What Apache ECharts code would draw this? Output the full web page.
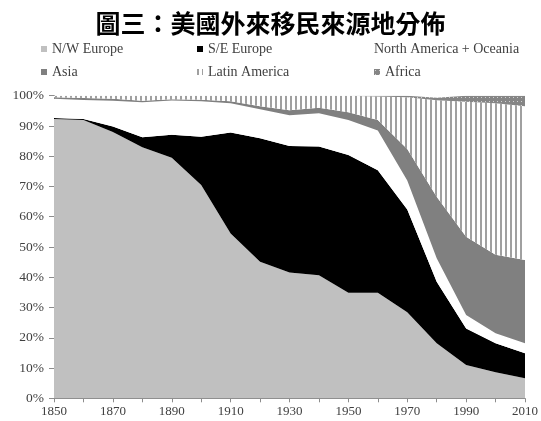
<!DOCTYPE html>
<html><head><meta charset="utf-8">
<script src="https://cdn.jsdelivr.net/npm/echarts@6/dist/echarts.min.js"></script>
<style>html,body{margin:0;padding:0;background:#fff}#c{width:541px;height:421px}</style>
</head><body><div id="c"></div>
<script>
const years = ['1850','1860','1870','1880','1890','1900','1910','1920','1930','1940','1950','1960','1970','1980','1990','2000','2010'];
const nwEurope = [92.3,92.0,88.0,83.0,79.5,70.5,54.5,45.1,41.6,40.7,34.9,34.9,28.4,18.2,11.0,8.6,6.6];
const seEurope = [0.3,0.3,1.8,3.3,7.6,15.9,33.3,40.8,41.8,42.5,45.5,40.5,34.0,20.3,12.1,9.6,8.3];
const naOceania = [6.4,6.3,8.5,11.5,11.3,11.8,9.7,9.6,10.1,11.0,11.6,13.1,9.6,7.8,4.4,3.3,3.3];
const asia = [0.5,0.6,0.7,0.5,0.4,0.5,0.7,1.0,1.7,1.8,2.5,3.5,10.4,20.3,25.9,25.9,27.5];
const latinAmerica = [0.5,0.8,1.0,1.7,1.2,1.3,1.8,3.5,4.8,4.0,5.5,7.7,17.1,31.9,44.6,50.1,50.8];
const africa = [0,0,0,0,0,0,0,0,0,0,0,0.3,0.5,0.8,2.0,2.5,3.5];
const yTicks = ['0%','10%','20%','30%','40%','50%','60%','70%','80%','90%','100%'];
const names = ['N/W Europe','S/E Europe','North America + Oceania','Asia','Latin America','Africa'];

function stripePattern(){
  const c=document.createElement('canvas');c.width=5;c.height=10;
  const g=c.getContext('2d');g.fillStyle='#ffffff';g.fillRect(0,0,5,10);
  g.fillStyle='#a0a0a0';g.fillRect(0,0,2,10);return c;
}
function dotPattern(){
  const c=document.createElement('canvas');c.width=4;c.height=4;
  const g=c.getContext('2d');g.fillStyle='#858585';g.fillRect(0,0,4,4);
  g.fillStyle='#d0d0d0';g.fillRect(1,1,1,1);return c;
}
const colors = ['#c0c0c0','#000000','#ffffff','#808080',{image:stripePattern(),repeat:'repeat'},{image:dotPattern(),repeat:'repeat'}];
const values = [nwEurope,seEurope,naOceania,asia,latinAmerica,africa];

const chart = echarts.init(document.getElementById('c'));
const textStyle = {fontFamily:'Liberation Serif',fontSize:14,color:'#404040'};
const legendPos = [[41,42],[197,42],[363,42],[41,65],[197,65],[374,65]];
chart.setOption({
  animation:false,
  title:{text:'圖三：美國外來移民來源地分佈',left:'center',top:6,
    textStyle:{fontFamily:'Noto Sans CJK TC',fontWeight:'bold',fontSize:25,color:'#000'}},
  legend: names.map((n,i)=>({data:[n],left:legendPos[i][0],top:legendPos[i][1],
    itemWidth:6,itemHeight:6,itemGap:3,icon:'rect',textStyle:textStyle,selectedMode:false,padding:0})),
  grid:{left:54,right:15,top:95.7,bottom:22.7},
  xAxis:{type:'category',data:years,boundaryGap:false,
    axisLine:{lineStyle:{color:'#8c8c8c'}},
    axisTick:{interval:0,length:4,lineStyle:{color:'#8c8c8c'}},
    axisLabel:{interval:1,fontFamily:'Liberation Serif',fontSize:13,color:'#404040',margin:7}},
  yAxis:{type:'value',min:0,max:100,interval:10,
    axisLine:{show:true,lineStyle:{color:'#8c8c8c'}},
    axisTick:{show:true,length:5,lineStyle:{color:'#8c8c8c'}},
    splitLine:{show:false},
    axisLabel:{formatter:(v)=>yTicks[Math.round(v/10)],fontFamily:'Liberation Serif',fontSize:13.5,color:'#404040',margin:10}},
  series: names.map((n,i)=>({name:n,type:'line',stack:'total',data:values[i],
    showSymbol:false,symbol:'none',lineStyle:{width:0},
    itemStyle:{color:colors[i]},areaStyle:{color:colors[i],opacity:1},
    emphasis:{disabled:true}}))
});
</script></body></html>
